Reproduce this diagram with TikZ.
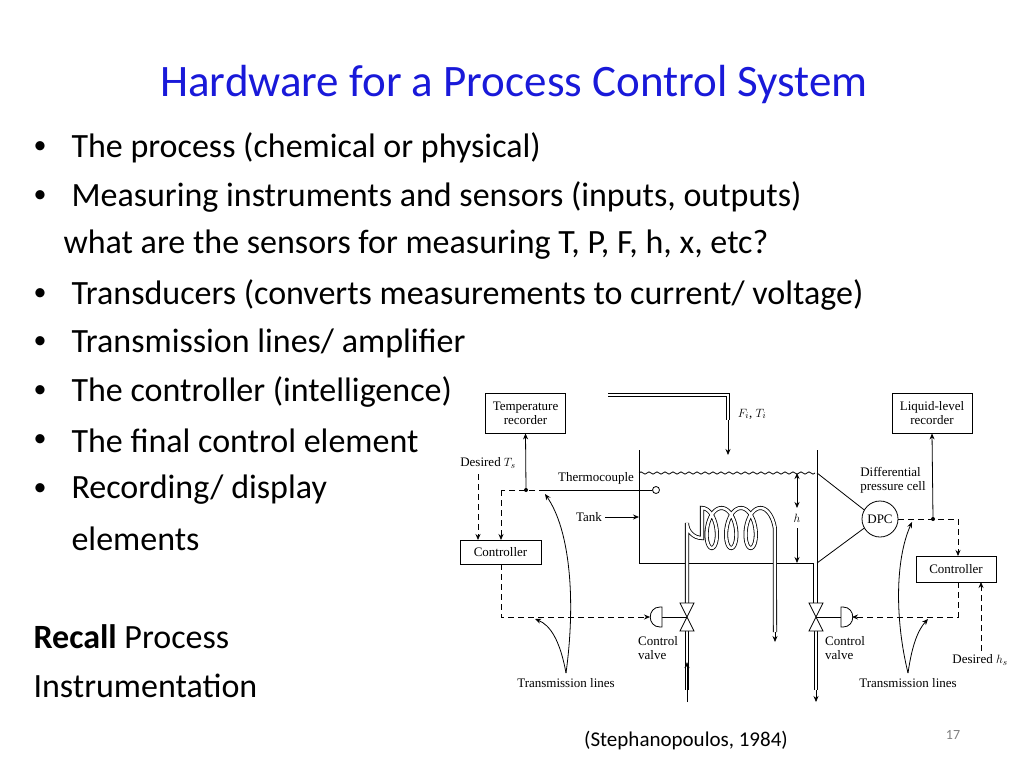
\documentclass[tikz,border=0pt]{standalone}
\usepackage{fontspec}
\setmainfont{Carlito}
\newfontfamily\figfont{Liberation Serif}
\usetikzlibrary{positioning,arrows.meta}
\definecolor{titleblue}{rgb}{0.1,0.1,0.85}
\begin{document}
\begin{tikzpicture}[x=1pt,y=-1pt,
  bullet/.style={anchor=west,font=\fontsize{34}{38}\selectfont},
  box/.style={draw,thick,inner sep=2pt,font=\figfont\fontsize{13}{14}\selectfont,align=center},
  lbl/.style={font=\figfont\fontsize{13}{14}\selectfont,align=left},
  sig/.style={thick,dashed,dash pattern=on 6pt off 4pt},
  pipe/.style={thick,double,double distance=2.5pt},
  >={Stealth[length=6pt,width=5pt]}]
\useasboundingbox (0,0) rectangle (1024,768);
% title and text
\node[text=titleblue,font=\fontsize{45}{50}\selectfont] (title) at (514,85) {Hardware for a Process Control System};
\foreach \y/\t in {148/{The process (chemical or physical)},
  197/{Measuring instruments and sensors (inputs, outputs)},
  295/{Transducers (converts measurements to current/ voltage)},
  343/{Transmission lines/ amplifier},
  392/{The controller (intelligence)},
  441/{The final control element},
  490/{Recording/ display}}{
  \node[anchor=west,font=\fontsize{26}{30}\selectfont] at (30,\y) {\textbullet};
  \node[bullet] at (68,\y) {\t};
}
\node[bullet] (q) at (60,245) {what are the sensors for measuring T, P, F, h, x, etc?};
\node[bullet] (el) at (68,539) {elements};
\node[bullet] (rec) at (30,637) {\textbf{Recall} Process};
\node[bullet] (ins) at (30,686) {Instrumentation};
\node[font=\fontsize{21}{24}\selectfont] (cite) at (686,740) {(Stephanopoulos, 1984)};
\node[font=\fontsize{14}{16}\selectfont,text=gray] (pg) at (953,735) {17};
% boxes
\node[box,minimum width=80pt,minimum height=40pt] (trec) at (525.5,413) {Temperature\\recorder};
\node[box,minimum width=81pt,minimum height=24pt] (tc) at (500.5,552) {Controller};
\node[box,minimum width=80pt,minimum height=40pt] (lrec) at (932,413) {Liquid-level\\recorder};
\node[box,minimum width=80pt,minimum height=26pt] (lc) at (956,569) {Controller};
\node[draw,thick,circle,minimum size=36pt,inner sep=0pt,font=\figfont\fontsize{13}{14}\selectfont] (dpc) at (880,519) {DPC};
\coordinate (tdot) at (526,490);
\coordinate (ldot) at (933,519);
\fill (tdot) circle (2pt) (ldot) circle (2pt);
% tank
\draw[thick] (639,450) -- (639,563) -- (813,563) -- (813,603);
\draw[thick] (817,450) -- (817,603);
\draw[thick] (639,473) \foreach \i in {0,...,21}{ .. controls +(2,-1.5) and +(-2,-1.5) .. ++(4,0) .. controls +(2,1.5) and +(-2,1.5) .. ++(4,0)};
\draw[thick,fill=white] (656,490) circle (3.5pt);
% feed pipe
\draw[pipe] (608,395) -- (728,395) -- (728,420);
\draw[thick,->] (728,420) -- (728,455);
\node[lbl] (feed) at (752,414) {$F_i$, $T_i$};
% coil
\draw[pipe] (687,603) -- (687,523) arc[start angle=180,end angle=90,radius=15]
  -- plot[domain=0:20.42,samples=160,smooth] ({702+3.1*\x+9.5*sin(\x r)},{528-20*cos(\x r)}) -- (775,632);
\draw[thick,->] (775,632) -- (775,642);
\draw[pipe] (687,631) -- (687,690);
\draw[thick,->] (687,702) -- (687,662);
\draw[pipe] (816,631) -- (816,690);
\draw[thick,->] (816,690) -- (816,702);
% valves
\foreach \x/\s in {687/-1,816/1}{
  \draw[thick,fill=white] (\x-7,603) -- (\x+7,603) -- (\x-7,631) -- (\x+7,631) -- cycle;
  \draw[thick] (\x,617) -- (\x+\s*25,617);
  \draw[thick,fill=white] (\x+\s*25,607) -- (\x+\s*27,607) .. controls (\x+\s*40,607) and (\x+\s*40,627) .. (\x+\s*27,627) -- (\x+\s*25,627) -- cycle;
}
\node[lbl] (cv1) at (658,648) {Control\\valve};
\node[lbl] (cv2) at (845,648) {Control\\valve};
% level measurement
\draw[thick,<->] (797,473) -- (797,508);
\draw[thick,<-] (797,563) -- (797,528);
\node[lbl] (h) at (797,518) {$h$};
\draw[thick] (817,473) -- (dpc.150);
\draw[thick] (817,563) -- (dpc.210);
\node[lbl] (dpcl) at (893,480) {Differential\\pressure cell};
% temperature loop
\draw[thick,->] (tdot) -- (trec.south);
\draw[sig] (545,490) -- (501,490);
\draw[sig,->] (501,490) -- (501,540);
\draw[thick] (545,490) -- (652,490);
\node[lbl] (ts) at (488,463) {Desired $T_s$};
\draw[sig,->] (478,474) -- (478,540);
\draw[sig,->] (501,564) -- (501,617) -- (650,617);
\node[lbl] (thc) at (596,478) {Thermocouple};
\node[lbl] (tank) at (589,517) {Tank};
\draw[thick,->] (tank.east) -- (639,517);
% level loop
\draw[thick,->] (ldot) -- (lrec.south);
\draw[sig] (898,519) -- (958,519);
\draw[sig,->] (958,519) -- (958,556);
\draw[sig,->] (958,582) -- (958,617) -- (852,617);
\node[lbl] (hs) at (980,660) {Desired $h_s$};
\draw[sig,->] (981,651) -- (981,582);
% transmission lines
\node[lbl] (tl1) at (566,683) {Transmission lines};
\node[lbl] (tl2) at (908,683) {Transmission lines};
\draw[thick,->] (566,673) .. controls (576,600) and (570,530) .. (545,494);
\draw[thick,->] (566,673) .. controls (560,640) and (550,625) .. (535,619);
\draw[thick,->] (908,673) .. controls (895,620) and (895,560) .. (912,522);
\draw[thick,->] (908,673) .. controls (912,645) and (918,630) .. (928,619);
\end{tikzpicture}
\end{document}
